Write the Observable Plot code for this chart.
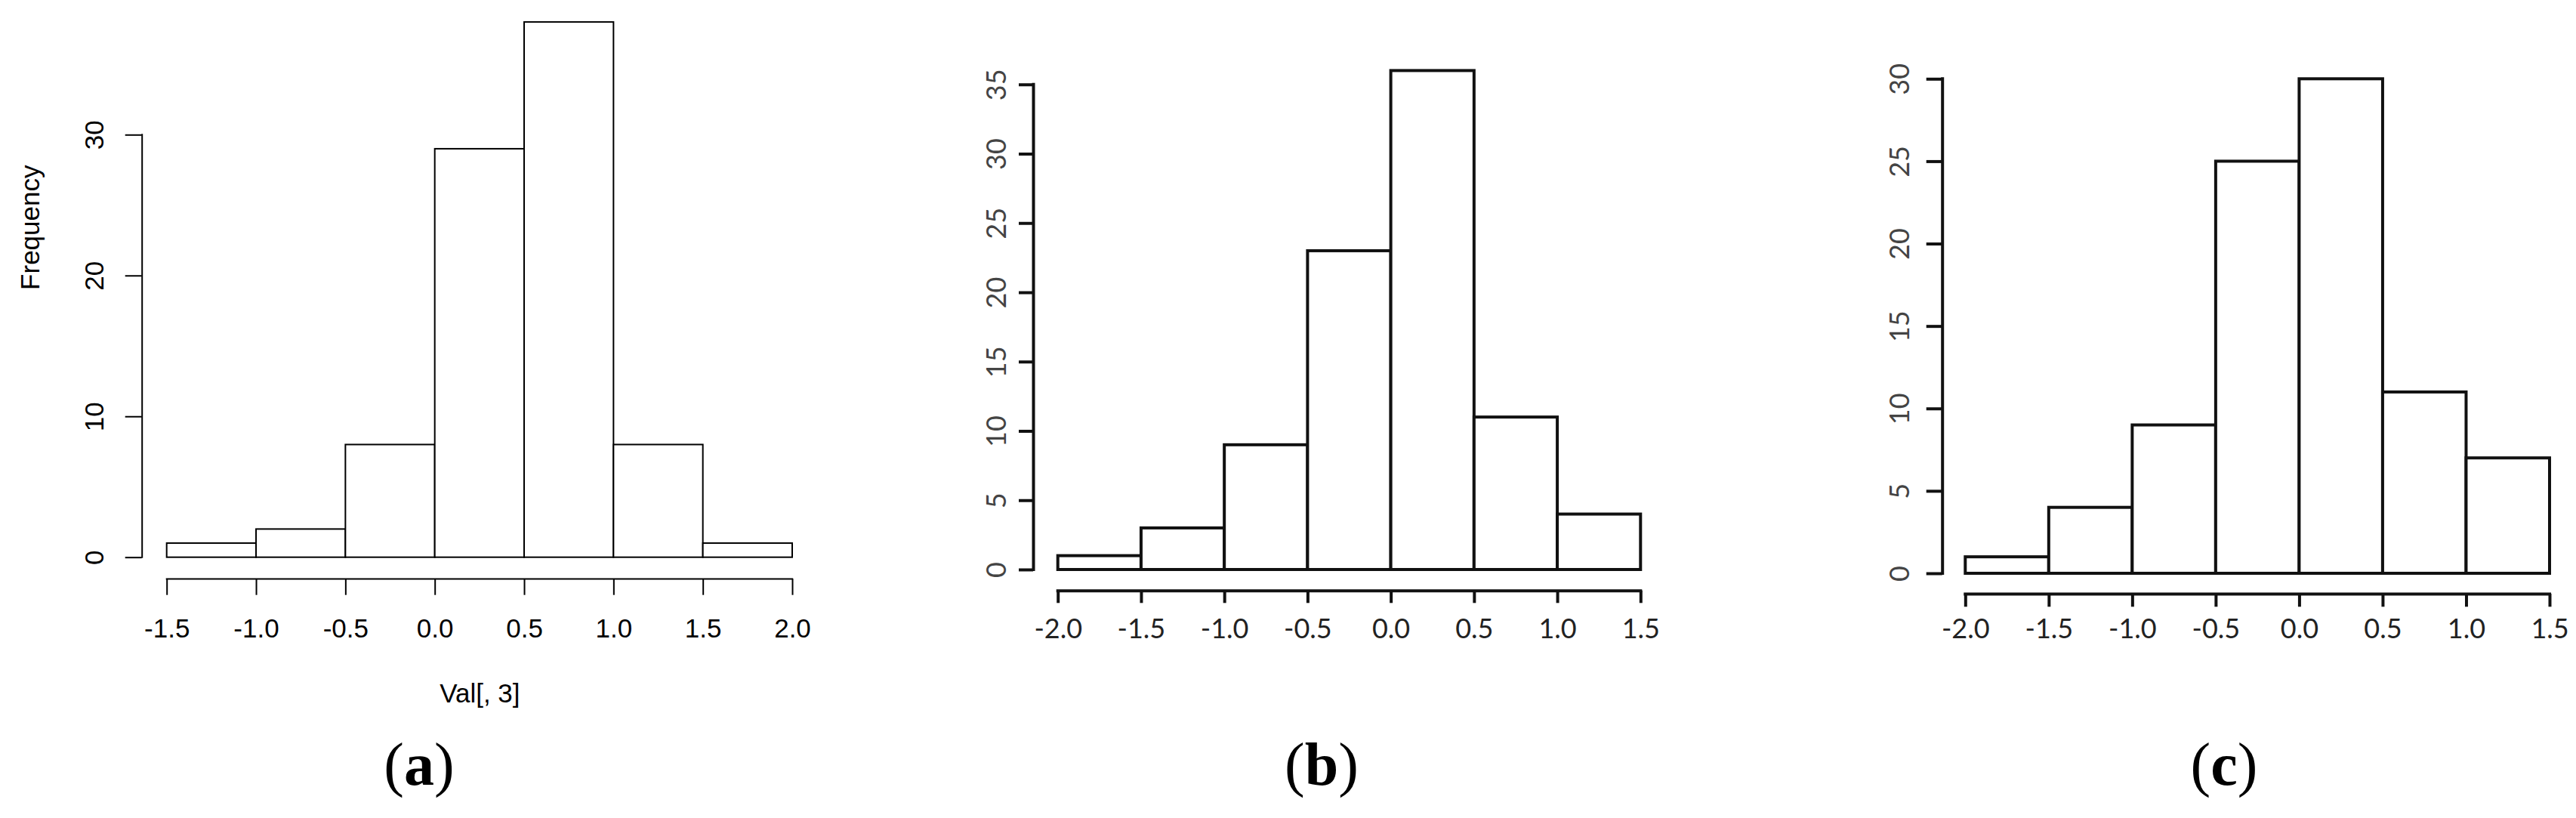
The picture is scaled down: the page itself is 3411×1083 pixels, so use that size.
<!DOCTYPE html>
<html><head><meta charset="utf-8">
<script src="https://cdn.jsdelivr.net/npm/d3@7"></script>
<script src="https://cdn.jsdelivr.net/npm/@observablehq/plot@0.6"></script>
<style>
html,body{margin:0;padding:0;background:#fff;}
#fig{position:relative;width:3411px;height:1083px;overflow:hidden;background:#fff;}
.panel{position:absolute;top:0;}
.tag{position:absolute;top:972px;width:200px;text-align:center;font-family:"Liberation Serif",serif;font-size:80px;line-height:80px;color:#000;}
.tag b{font-weight:700;}
</style></head><body>
<div id="fig"></div>
<script>
// ---- data ----
const edgesA = [-1.5, -1.0, -0.5, 0.0, 0.5, 1.0, 1.5, 2.0];
const countsA = [1, 2, 8, 29, 38, 8, 1];
const edgesB = [-2.0, -1.5, -1.0, -0.5, 0.0, 0.5, 1.0, 1.5];
const countsB = [1, 3, 9, 23, 36, 11, 4];
const edgesC = [-2.0, -1.5, -1.0, -0.5, 0.0, 0.5, 1.0, 1.5];
const countsC = [1, 4, 9, 25, 30, 11, 7];
const xTicksA = [-1.5, -1.0, -0.5, 0.0, 0.5, 1.0, 1.5, 2.0];
const yTicksA = [0, 10, 20, 30];
const xTicksB = [-2.0, -1.5, -1.0, -0.5, 0.0, 0.5, 1.0, 1.5];
const yTicksB = [0, 5, 10, 15, 20, 25, 30, 35];
const xTicksC = [-2.0, -1.5, -1.0, -0.5, 0.0, 0.5, 1.0, 1.5];
const yTicksC = [0, 5, 10, 15, 20, 25, 30];
const xTitleA = "Val[, 3]";
const yTitleA = "Frequency";
const tags = ["a", "b", "c"];

const bins = (edges, counts) => counts.map((c, i) => ({x0: edges[i], x1: edges[i + 1], count: c}));

const panels = [
  {edges: edgesA, counts: countsA, xTicks: xTicksA, yTicks: yTicksA, xTitle: xTitleA, yTitle: yTitleA,
   left: 0, width: 1100, mL: 220.7, mR: 51, mT: 29.1, mB: 345.3, sw: 2,
   axDx: -33, axDy: 28.3, tickY: 22, tickX: 21.7, yLabDx: -95.7, xLabDy: 94.3,
   font: "Liberation Sans, Arial, sans-serif", fs: 35, xCol: "#000", yCol: "#000", stroke: "#000",
   xTitleDy: 180.3, yTitleDx: -180.7, tagX: 555},
  {edges: edgesB, counts: countsB, xTicks: xTicksB, yTicks: yTicksB,
   left: 1140, width: 1120, mL: 260.7, mR: 87.7, mT: 93.4, mB: 329, sw: 4,
   axDx: -32.7, axDy: 27.7, tickY: 19, tickX: 16.6, yLabDx: -80.7, xLabDy: 79,
   font: "Lato, 'Open Sans', sans-serif", fs: 36, xCol: "#222", yCol: "#444", stroke: "#111", tagX: 1750},
  {edges: edgesC, counts: countsC, xTicks: xTicksC, yTicks: yTicksC,
   left: 2300, width: 1111, mL: 302.3, mR: 35, mT: 104.3, mB: 324, sw: 4,
   axDx: -30.6, axDy: 27, tickY: 21, tickX: 17.3, yLabDx: -86.3, xLabDy: 74,
   font: "Lato, 'Open Sans', sans-serif", fs: 36, xCol: "#222", yCol: "#444", stroke: "#111", tagX: 2945}
];

const fig = document.getElementById("fig");

panels.forEach((p, i) => {
  const data = bins(p.edges, p.counts);
  const marks = [
    Plot.rectY(data, {x1: "x0", x2: "x1", y: "count", fill: "white", stroke: p.stroke, strokeWidth: p.sw}),
    Plot.axisX(p.xTicks, {tickSize: p.tickX, dy: p.axDy, strokeWidth: p.sw, stroke: p.stroke, fill: "none", label: null}),
    Plot.ruleY([0], {x1: p.xTicks[0], x2: p.xTicks[p.xTicks.length - 1], dy: p.axDy, stroke: p.stroke, strokeWidth: p.sw, strokeLinecap: "square"}),
    Plot.axisY(p.yTicks, {tickSize: p.tickY, dx: p.axDx, strokeWidth: p.sw, stroke: p.stroke, fill: "none", label: null}),
    Plot.ruleX([p.xTicks[0]], {y1: p.yTicks[0], y2: p.yTicks[p.yTicks.length - 1], dx: p.axDx, stroke: p.stroke, strokeWidth: p.sw, strokeLinecap: "square"}),
    Plot.text(p.xTicks, {x: d => d, text: d => d.toFixed(1), frameAnchor: "bottom", dy: p.xLabDy, lineAnchor: "middle", textAnchor: "middle", fill: p.xCol, fontSize: p.fs}),
    Plot.text(p.yTicks, {y: d => d, text: d => String(d), frameAnchor: "left", dx: p.yLabDx, rotate: -90, lineAnchor: "middle", textAnchor: "middle", fill: p.yCol, fontSize: p.fs})
  ];
  if (p.xTitle) marks.push(Plot.text([p.xTitle], {frameAnchor: "bottom", dy: p.xTitleDy, lineAnchor: "middle", fill: "#000", fontSize: p.fs}));
  if (p.yTitle) marks.push(Plot.text([p.yTitle], {frameAnchor: "left", dx: p.yTitleDx, rotate: -90, lineAnchor: "middle", fill: "#000", fontSize: p.fs}));

  const chart = Plot.plot({
    width: p.width,
    height: 1083,
    marginLeft: p.mL, marginRight: p.mR, marginTop: p.mT, marginBottom: p.mB,
    x: {type: "linear", domain: [p.edges[0], p.edges[p.edges.length - 1]]},
    y: {type: "linear", domain: [0, d3.max(p.counts)]},
    style: {background: "transparent", fontFamily: p.font, fontSize: p.fs + "px", color: "#000", overflow: "visible"},
    marks
  });
  chart.classList.add("panel");
  chart.style.left = p.left + "px";
  fig.appendChild(chart);

  const tag = document.createElement("div");
  tag.className = "tag";
  tag.style.left = (p.tagX - 100) + "px";
  tag.innerHTML = "(<b>" + tags[i] + "</b>)";
  fig.appendChild(tag);
});
</script>
</body></html>
